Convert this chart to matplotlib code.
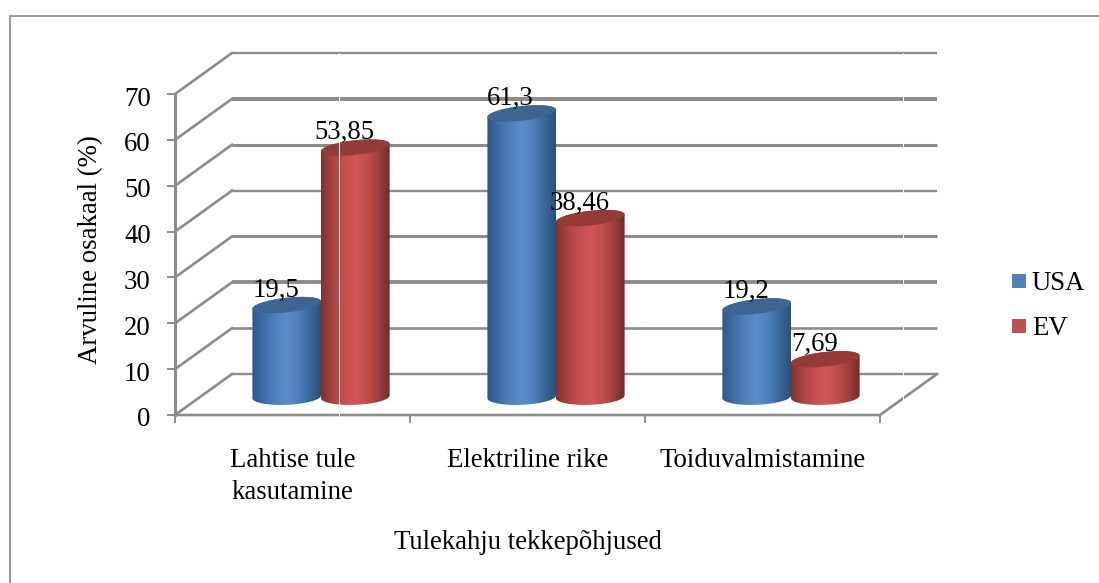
"""Two-series 3D-style cylinder chart of fire causes, drawn on a flat matplotlib axes."""

import numpy as np
import matplotlib

matplotlib.use("Agg")
import matplotlib.pyplot as plt
from matplotlib.colors import LinearSegmentedColormap
from matplotlib.lines import Line2D
from matplotlib.path import Path
from matplotlib.patches import PathPatch, Rectangle
from matplotlib.transforms import ScaledTranslation

plt.rcParams["font.family"] = ["Liberation Serif", "DejaVu Serif"]

categories = ["Lahtise tule\nkasutamine", "Elektriline rike", "Toiduvalmistamine"]
usa_values = [19.5, 61.3, 19.2]
ev_values = [53.85, 38.46, 7.69]
usa_labels = ["19,5", "61,3", "19,2"]
ev_labels = ["53,85", "38,46", "7,69"]
y_ticks = [0, 10, 20, 30, 40, 50, 60, 70]

GRID = "#8c8c8c"
FONT = 19.3
# floor depth of the box, in category widths and value units
DEPTH_X = 0.2426
DEPTH_Y = 8.94
BAR_W = 0.292
RX = BAR_W / 2
CAP_RY = 1.6
CAP_TILT = 0.8
BASE_RY = 1.75
BASE_TILT = 0.3
BASE_DROP = 0.5

figure = plt.figure(figsize=(10.99, 5.83), dpi=100)
figure.patch.set_facecolor("white")
# only the top and left edges of the chart frame are in view
figure.add_artist(Line2D([10 / 1099, 10 / 1099, 1], [0, 1 - 15.5 / 583, 1 - 15.5 / 583],
                         transform=figure.transFigure, color="#8f8f8f", lw=1.3))

axes = figure.add_axes([175 / 1099, 1 - 415 / 583, 705 / 1099, 321 / 583])
axes.set_xlim(0, 3)
axes.set_ylim(0, 70)
axes.patch.set_alpha(0)
for side in ("top", "right", "bottom", "left"):
    axes.spines[side].set_visible(False)

# back wall, side wall and floor
back_widths = [1.7, 1.9, 2.8, 2.2, 1.7, 2.2, 2.9, 1.7]
for tick, width in zip(y_ticks, back_widths):
    axes.plot([DEPTH_X, 3 + DEPTH_X], [tick + DEPTH_Y] * 2, color=GRID, lw=width,
              clip_on=False, solid_capstyle="butt", zorder=1)
    axes.plot([0, DEPTH_X], [tick, tick + DEPTH_Y], color=GRID, lw=1.9,
              clip_on=False, zorder=1)
axes.plot([0, 0], [0, 70], color=GRID, lw=2.2, clip_on=False, zorder=1)
axes.plot([0, 3, 3 + DEPTH_X], [0, 0, DEPTH_Y], color=GRID, lw=1.9, clip_on=False, zorder=1)

axes.set_yticks(y_ticks)
axes.set_xticks([0, 1, 2, 3])
axes.set_xticklabels([])
axes.tick_params(axis="both", length=6, width=1.4, color=GRID, labelsize=FONT, pad=11.5)
# nudge value labels a little below their ticks
nudge = ScaledTranslation(0, -2 / 100, figure.dpi_scale_trans)
for tick_label in axes.get_yticklabels():
    tick_label.set_transform(tick_label.get_transform() + nudge)
axes.set_ylabel("Arvuline osakaal (%)", fontsize=FONT)
axes.yaxis.set_label_coords(-0.102, 0.514)
for i, name in enumerate(categories):
    axes.text(i + 0.5, -7.3, name, ha="center", va="top", fontsize=FONT, linespacing=1.35,
              clip_on=False)
axes.text(1.5, -27.7, "Tulekahju tekkepõhjused", ha="center", va="center", fontsize=FONT,
          clip_on=False)

blue_map = LinearSegmentedColormap.from_list(
    "blue", ["#2f5885", "#3e6ea6", "#4f81bd", "#5a8dcb", "#4f81bd", "#3a689c", "#2b5078"])
red_map = LinearSegmentedColormap.from_list(
    "red", ["#7d3331", "#a84543", "#c44f4e", "#d25757", "#c04e4c", "#9f403e", "#6f2c2a"])


def draw_cylinder(center, value, cmap, cap_color, zorder):
    base = DEPTH_Y / 2
    t = np.linspace(0, np.pi, 60)
    top_x = center + RX * np.cos(t)
    top_y = base + value + CAP_RY * np.sin(t) + CAP_TILT * np.cos(t)
    low_x = center - RX * np.cos(t)
    low_y = base - BASE_DROP - BASE_RY * np.sin(t) - BASE_TILT * np.cos(t)
    body = Path(np.column_stack([np.r_[top_x, low_x], np.r_[top_y, low_y]]))
    shade = axes.imshow(np.linspace(0, 1, 256)[None, :], cmap=cmap, aspect="auto",
                        extent=(center - RX, center + RX, base - 3, base + value + 3),
                        zorder=zorder)
    shade.set_clip_path(PathPatch(body, transform=axes.transData))
    t = np.linspace(0, 2 * np.pi, 120)
    cap_x = center + RX * np.cos(t)
    cap_y = base + value + CAP_RY * np.sin(t) + CAP_TILT * np.cos(t)
    axes.fill(cap_x, cap_y, color=cap_color, lw=0, zorder=zorder + 0.1, clip_on=False)


# cylinders stand at mid depth; USA goes behind EV so EV overlaps the shared edge
for i in range(len(categories)):
    center = i + 0.5 + DEPTH_X / 2
    draw_cylinder(center - BAR_W / 2, usa_values[i], blue_map, "#3c6594", 3)
    draw_cylinder(center + BAR_W / 2, ev_values[i], red_map, "#943b39", 4)
    for offset, value, label in ((-BAR_W / 2, usa_values[i], usa_labels[i]),
                                 (BAR_W / 2, ev_values[i], ev_labels[i])):
        axes.annotate(label, (center + offset, value + DEPTH_Y / 2), xytext=(-11, 15),
                      textcoords="offset pixels", ha="center", va="center",
                      fontsize=FONT, zorder=6)

# hairline seams crossing the plot
for seam in (0.7, 3.1):
    axes.plot([seam, seam], [-1, 79], color="white", lw=0.7, clip_on=False, zorder=5)
axes.set_xlim(0, 3)
axes.set_ylim(0, 70)

# legend
for name, color, top in (("USA", "#4f81bd", 274), ("EV", "#c0504d", 319)):
    figure.add_artist(Rectangle((1012 / 1099, 1 - (top + 14) / 583), 14 / 1099, 14 / 583,
                                transform=figure.transFigure, color=color, lw=0))
    figure.text(1032 / 1099, 1 - (top + 9.5) / 583, name, fontsize=FONT, va="center")

figure.savefig("out.png", dpi=100)
